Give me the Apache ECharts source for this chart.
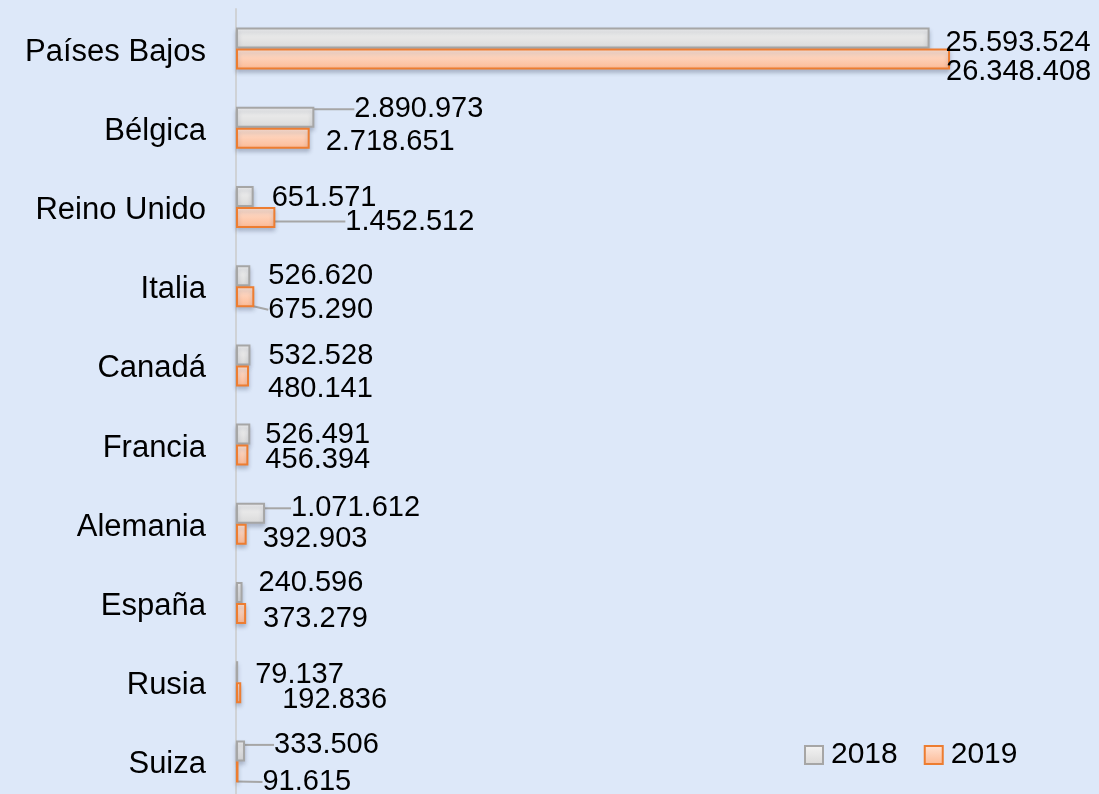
<!DOCTYPE html>
<html>
<head>
<meta charset="utf-8">
<script src="https://cdn.jsdelivr.net/npm/echarts@6/dist/echarts.min.js"></script>
<style>
  html, body { margin: 0; padding: 0; background: #dde8f9; }
  #chart { width: 1099px; height: 794px; }
</style>
</head>
<body>
<div id="chart"></div>
<script>
const countries = ['Países Bajos', 'Bélgica', 'Reino Unido', 'Italia', 'Canadá', 'Francia', 'Alemania', 'España', 'Rusia', 'Suiza'];
const values2018 = [25593524, 2890973, 651571, 526620, 532528, 526491, 1071612, 240596, 79137, 333506];
const values2019 = [26348408, 2718651, 1452512, 675290, 480141, 456394, 392903, 373279, 192836, 91615];

// label nudges (dx, dy) from the default right-side spot, like the hand placed Excel labels
const shift2018 = [[11, 2], [35, -11], [13, -2], [13, -3], [13, -2], [10, -2], [21, -8], [11, -13], [12, 0], [24, -9]];
const shift2019 = [[-9, 10], [11, 1], [65, 1], [9, 10], [14, 10], [12, 2], [11, 2], [12, 2], [36, 4], [19, 7]];
const leader2018 = [false, true, false, false, false, false, true, false, false, true];
const leader2019 = [false, false, true, true, false, false, false, false, false, true];

const fontFamily = 'Liberation Sans';
const fmt = (v) => String(v).replace(/\B(?=(\d{3})+(?!\d))/g, '.');

const chart = echarts.init(document.getElementById('chart'));

const makeSeries = (name, values, shifts, leaders, fill, border) => ({
  name: name,
  type: 'bar',
  barWidth: 21,
  barGap: '0%',
  data: values.map((v, i) => ({ value: v, labelLine: { show: leaders[i] } })),
  itemStyle: {
    color: new echarts.graphic.LinearGradient(0, 0, 0, 1, [
      { offset: 0, color: fill[0] },
      { offset: 1, color: fill[1] },
    ]),
    borderColor: border,
    borderWidth: 2,
    shadowColor: 'rgba(40, 50, 80, 0.25)',
    shadowBlur: 4,
    shadowOffsetY: 3,
  },
  label: {
    show: true,
    position: 'right',
    distance: 5,
    formatter: (p) => fmt(p.value),
    color: '#000',
    fontFamily: fontFamily,
    fontSize: 29,
  },
  labelLine: {
    lineStyle: { color: '#a6a6a6', width: 2 },
  },
  // +3 to sit the text a bit lower, as the Century Gothic labels do
  labelLayout: (p) => ({ dx: shifts[p.dataIndex][0], dy: shifts[p.dataIndex][1] + 3 }),
});

const option = {
  backgroundColor: '#dde8f9',
  animation: false,
  grid: { left: 236, top: 9, width: 813, height: 792, outerBoundsMode: 'none' },
  legend: {
    data: ['2018', '2019'],
    left: 799,
    top: 735,
    icon: 'rect',
    itemWidth: 18,
    itemHeight: 18,
    itemGap: 26,
    textStyle: { fontFamily: fontFamily, fontSize: 30, color: '#000', padding: [0, 0, 0, 3] },
  },
  xAxis: {
    type: 'value',
    min: 0,
    max: 30000000,
    show: false,
    splitLine: { show: false },
  },
  yAxis: {
    type: 'category',
    inverse: true,
    data: countries,
    axisTick: { show: false },
    axisLine: { lineStyle: { color: '#cfd2d6', width: 2 } },
    axisLabel: {
      margin: 30,
      formatter: (v) => '{c|' + v + '}',
      rich: {
        c: { color: '#000', fontFamily: fontFamily, fontSize: 31, padding: [7, 0, 0, 0] },
      },
    },
  },
  series: [
    makeSeries('2018', values2018, shift2018, leader2018, ['#f4f4f4', '#d9d9d9'], '#a6a6a6'),
    makeSeries('2019', values2019, shift2019, leader2019, ['#ffe4d6', '#fcb994'], '#ed7d31'),
  ],
};

chart.setOption(option);
</script>
</body>
</html>
